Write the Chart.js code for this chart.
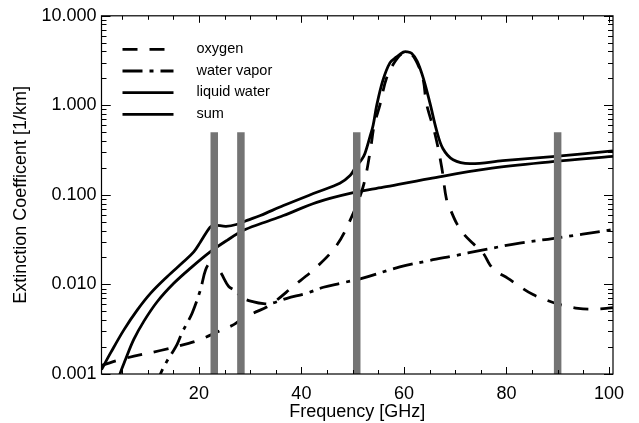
<!DOCTYPE html>
<html>
<head>
<meta charset="utf-8">
<script src="https://cdn.jsdelivr.net/npm/chart.js@4/dist/chart.umd.min.js"></script>
<style>
  html, body { margin: 0; padding: 0; background: #ffffff; }
  #wrap { width: 639px; height: 423px; }
</style>
</head>
<body>
<div id="wrap"><canvas id="c" width="639" height="423"></canvas></div>
<script>
// Extinction coefficients [1/km] versus frequency [GHz]
const seriesNames = ['oxygen', 'water vapor', 'liquid water', 'sum'];

const oxygenFreq = [1.0, 5.7, 12.5, 18.0, 20.3, 23.9, 26.8, 28.7, 30.7, 33.9, 38.4, 43.0, 46.9, 49.5, 52.0, 53.4, 54.2, 55.3, 56.6, 58.3, 59.9, 61.5, 62.8, 63.8, 64.4, 66.1, 67.4, 68.3, 69.2, 70.3, 71.6, 73.5, 75.5, 76.8, 78.1, 80.3, 82.6, 85.2, 87.8, 90.7, 94.0, 96.6, 99.5, 100.8];
const oxygenVal  = [0.00125, 0.0015, 0.00183, 0.0022, 0.00243, 0.0030, 0.00356, 0.00426, 0.0048, 0.0059, 0.0095, 0.0157, 0.0274, 0.052, 0.121, 0.30, 0.6, 1.0, 2.0, 3.1, 3.85, 3.7, 2.8, 1.9, 1.05, 0.47, 0.2, 0.09, 0.066, 0.048, 0.037, 0.0286, 0.0222, 0.0165, 0.0139, 0.0117, 0.0095, 0.0077, 0.0067, 0.0059, 0.0054, 0.0053, 0.0054, 0.0055];

const vaporFreq = [11.5, 12.5, 13.8, 14.8, 15.75, 16.7, 17.7, 18.7, 20.3, 21.3, 22.2, 23.9, 25.8, 26.8, 28.7, 30.7, 32.6, 33.9, 37.2, 41.1, 44.3, 47.6, 51.8, 59.2, 65.0, 70.0, 75.0, 82.6, 89.0, 100.8];
const vaporVal  = [0.0007, 0.001, 0.0014, 0.00173, 0.00214, 0.00288, 0.0037, 0.0048, 0.0087, 0.0145, 0.0172, 0.0145, 0.0095, 0.0087, 0.0070, 0.0064, 0.0061, 0.0061, 0.0070, 0.0080, 0.0093, 0.0103, 0.0117, 0.0157, 0.0185, 0.021, 0.024, 0.029, 0.0325, 0.041];

const liquidFreq = [3.6, 4.6, 5.7, 7.3, 9.25, 11.9, 15.1, 18.3, 22.2, 25.5, 28.7, 32.0, 36.5, 43.0, 49.5, 56.0, 65.0, 76.2, 89.0, 100.8];
const liquidVal  = [0.00062, 0.001, 0.00146, 0.00243, 0.00387, 0.00645, 0.0103, 0.0151, 0.0231, 0.0311, 0.0402, 0.0476, 0.0589, 0.0826, 0.104, 0.122, 0.152, 0.195, 0.235, 0.27];

const sumFreq = [1.0, 2.8, 5.4, 8.0, 10.6, 13.8, 17.0, 19.0, 20.3, 22.2, 23.0, 25.3, 27.5, 29.4, 32.0, 36.5, 43.0, 47.5, 49.5, 50.5, 51.8, 52.4, 53.4, 54.0, 54.7, 55.9, 57.3, 58.5, 59.9, 60.6, 61.5, 62.6, 63.8, 65.1, 66.4, 67.6, 69.6, 72.9, 79.3, 89.0, 100.8];
const sumVal  = [0.00112, 0.00173, 0.00313, 0.0052, 0.0080, 0.0122, 0.0179, 0.0231, 0.0298, 0.0437, 0.046, 0.0445, 0.047, 0.0519, 0.0589, 0.076, 0.107, 0.135, 0.165, 0.2, 0.25, 0.29, 0.45, 0.6, 1.0, 1.9, 3.0, 3.45, 3.93, 3.96, 3.82, 3.1, 2.0, 1.05, 0.52, 0.33, 0.247, 0.223, 0.241, 0.267, 0.31];

// radiometer channel markers
const channelFreq = [23.0, 28.2, 50.8, 90.0];
const channelTop = 0.5;

const yTickValues = [0.001, 0.01, 0.1, 1, 10];
const yTickLabels = ['0.001', '0.010', '0.100', '1.000', '10.000'];
const xTickValues = [20, 40, 60, 80, 100];

const FONT = '"Liberation Sans", Arial, Helvetica, sans-serif';

function pts(fs, vs) { return fs.map((f, i) => ({ x: f, y: vs[i] })); }

const curveStyles = [
  { dash: [15, 12] },
  { dash: [20, 7, 4, 7] },
  { dash: [] },
  { dash: [] }
];
const curveData = [
  pts(oxygenFreq, oxygenVal),
  pts(vaporFreq, vaporVal),
  pts(liquidFreq, liquidVal),
  pts(sumFreq, sumVal)
];

const datasets = [];
channelFreq.forEach(f => {
  datasets.push({
    label: 'channel ' + f,
    data: [{ x: f, y: yTickValues[0] }, { x: f, y: channelTop }],
    borderColor: '#747474',
    borderWidth: 7.5,
    borderCapStyle: 'butt',
    pointRadius: 0,
    tension: 0,
    order: 0,
    clip: 0
  });
});
seriesNames.forEach((name, i) => {
  datasets.push({
    label: name,
    data: curveData[i],
    borderColor: '#000000',
    borderWidth: 2.8,
    borderDash: curveStyles[i].dash,
    borderCapStyle: 'butt',
    borderJoinStyle: 'round',
    pointRadius: 0,
    tension: 0.35,
    order: 1,
    clip: 0
  });
});

// Frame with inward ticks on all four sides, plus the legend box
const framePlugin = {
  id: 'frame',
  afterDatasetsDraw(chart) {
    const { ctx, chartArea: a, scales } = chart;
    const xs = scales.x, ys = scales.y;
    ctx.save();
    ctx.strokeStyle = '#000';
    ctx.lineWidth = 1.2;
    ctx.strokeRect(a.left, a.top, a.right - a.left, a.bottom - a.top);
    ctx.lineWidth = 1;
    ctx.beginPath();
    for (let f = 5; f <= 100; f += 5) {
      const px = Math.round(xs.getPixelForValue(f)) + 0.5;
      const len = (f % 20 === 0) ? 7 : 4;
      ctx.moveTo(px, a.bottom); ctx.lineTo(px, a.bottom - len);
      ctx.moveTo(px, a.top); ctx.lineTo(px, a.top + len);
    }
    for (let d = -3; d <= 0; d++) {
      for (let m = 1; m <= 10; m++) {
        const v = m * Math.pow(10, d);
        const py = Math.round(ys.getPixelForValue(v)) + 0.5;
        const len = (m === 1 || m === 10) ? 9 : 5;
        ctx.moveTo(a.left, py); ctx.lineTo(a.left + len, py);
        ctx.moveTo(a.right, py); ctx.lineTo(a.right - len, py);
      }
    }
    ctx.stroke();

    // legend
    const x0 = a.left + 21, x1 = a.left + 72, tx = a.left + 95;
    const y0 = a.top + 33.5, dy = 21.7;
    ctx.font = '14.5px ' + FONT;
    ctx.fillStyle = '#000';
    ctx.textBaseline = 'alphabetic';
    seriesNames.forEach((name, i) => {
      const y = y0 + i * dy;
      ctx.beginPath();
      ctx.lineWidth = 2.8;
      ctx.setLineDash(curveStyles[i].dash);
      ctx.moveTo(x0, y); ctx.lineTo(x1, y);
      ctx.stroke();
      ctx.setLineDash([]);
      ctx.fillText(name, tx, y + 3.5);
    });
    ctx.restore();
  }
};

new Chart(document.getElementById('c'), {
  type: 'line',
  data: { datasets },
  options: {
    responsive: false,
    devicePixelRatio: 1,
    animation: false,
    layout: { padding: { top: 13, right: 26, left: 0, bottom: 0 } },
    plugins: { legend: { display: false }, tooltip: { enabled: false } },
    scales: {
      x: {
        type: 'linear',
        min: 1,
        max: 100.8,
        grid: { display: false, drawTicks: false },
        border: { display: false },
        afterBuildTicks: s => { s.ticks = xTickValues.map(v => ({ value: v })); },
        afterFit: s => { s.height = 49; },
        ticks: {
          color: '#000',
          padding: 9,
          maxRotation: 0,
          font: { family: FONT, size: 18 },
          callback: v => String(v)
        },
        title: {
          display: true,
          text: 'Frequency [GHz]',
          color: '#000',
          font: { family: FONT, size: 18 },
          padding: { top: 2, bottom: 0 }
        }
      },
      y: {
        type: 'logarithmic',
        min: 0.001,
        max: 10,
        grid: { display: false, drawTicks: false },
        border: { display: false },
        afterBuildTicks: s => { s.ticks = yTickValues.map(v => ({ value: v })); },
        afterFit: s => { s.width = 101.5; },
        ticks: {
          color: '#000',
          padding: 5,
          font: { family: FONT, size: 18 },
          callback: v => {
            const i = yTickValues.findIndex(t => Math.abs(t - v) / t < 1e-6);
            return i >= 0 ? yTickLabels[i] : '';
          }
        },
        title: {
          display: true,
          text: 'Extinction Coefficent [1/km]',
          color: '#000',
          font: { family: FONT, size: 18 },
          padding: { top: 10, bottom: 4 }
        }
      }
    }
  },
  plugins: [framePlugin]
});
</script>
</body>
</html>
